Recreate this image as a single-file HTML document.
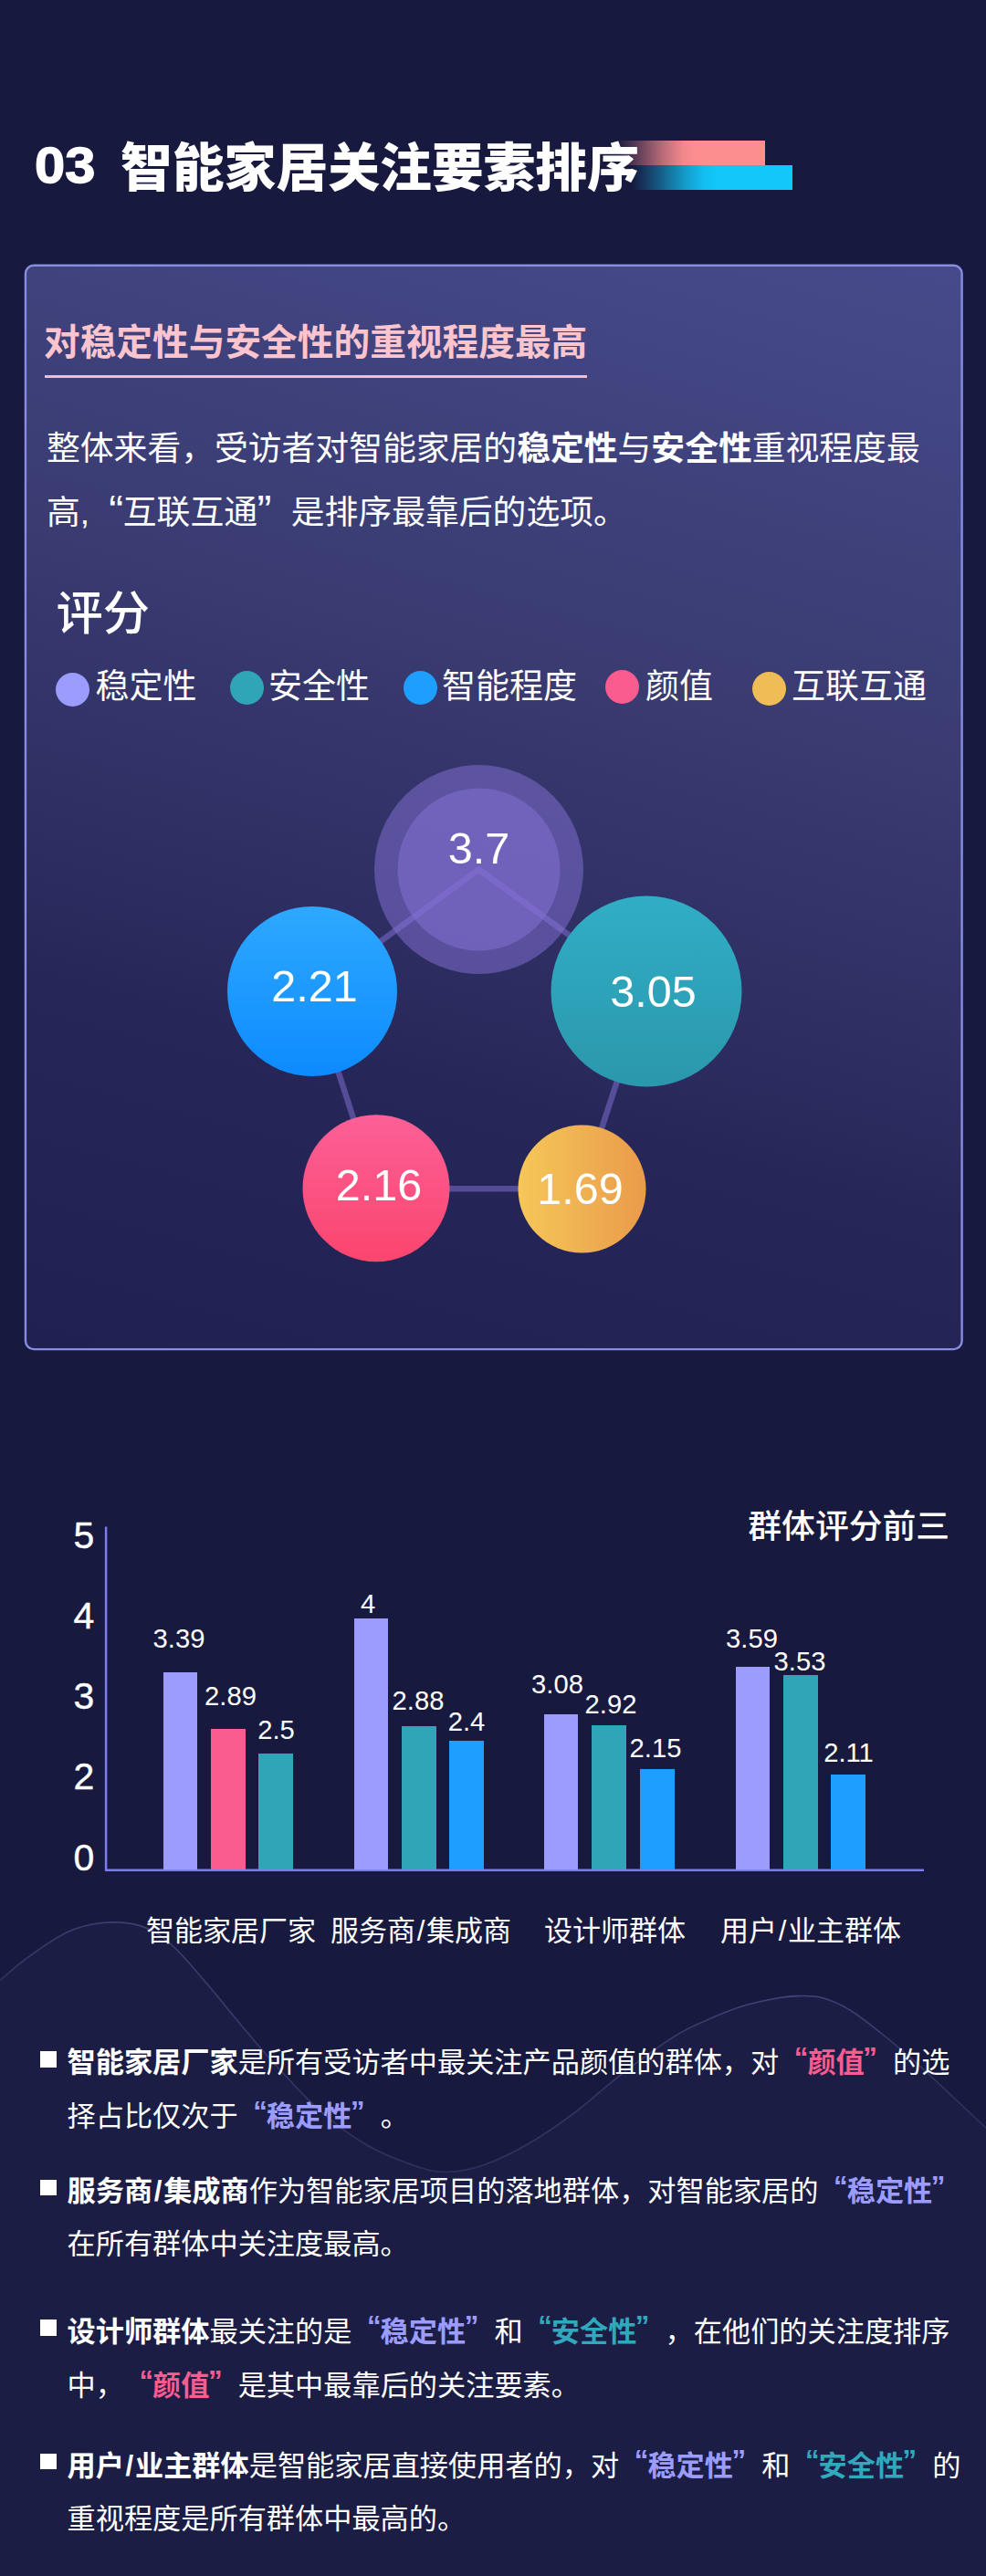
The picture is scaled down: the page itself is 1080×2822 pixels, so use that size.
<!DOCTYPE html>
<html lang="zh-CN"><head><meta charset="utf-8"><title>智能家居关注要素排序</title>
<style>
*{margin:0;padding:0;box-sizing:border-box}
html,body{width:1080px;height:2822px;background:#17193e;overflow:hidden}
body{font-family:"Liberation Sans", "Noto Sans CJK SC", sans-serif;color:#fff;text-spacing-trim:space-all;-webkit-font-smoothing:antialiased}
#pg{position:relative;width:1080px;height:2822px;overflow:hidden;background:#17193e}
.abs{position:absolute;white-space:nowrap}
.ql,.qr{font-size:1.3em;line-height:0;position:relative;top:.033em}
.ql{margin-left:.446em;margin-right:-.01em}
.qr{margin-left:-.013em;margin-right:.449em}
.qlb,.qrb{position:relative;top:-.165em}
.qlb{margin-left:.53em;margin-right:-.03em}
.qrb{margin-left:-.05em;margin-right:.55em}
b{font-weight:700}
.t{position:absolute;white-space:nowrap;line-height:1}
.title{font-weight:900;font-size:56.8px;line-height:60px;top:154.8px}
h1,h2,h3,p,li,figcaption{font-weight:400;font-size:inherit}
ul{list-style:none}
.h2{font-weight:700;font-size:39.7px;color:#fcc4cd;left:48px;top:353.5px;line-height:42px}
.ul{position:absolute;left:48.5px;top:411px;width:594px;height:3px;background:#f6bcc8}
.p1{font-size:36.8px;line-height:40px;left:51px;color:#fff}
.leg{font-size:37px;line-height:40px;top:732.7px}
.dot{position:absolute;width:37px;height:37px;border-radius:50%}
.num{position:absolute;white-space:nowrap;font-size:48.5px;line-height:50px;text-align:center;transform:translateX(-50%)}
.bar{position:absolute;width:37.6px}
.v{position:absolute;white-space:nowrap;font-size:29.2px;line-height:30px;transform:translateX(-50%)}
.ax{position:absolute;white-space:nowrap;font-size:41px;line-height:40px;left:92px;transform:translateX(-50%);-webkit-text-stroke:.4px #fff}
.xl{position:absolute;white-space:nowrap;font-size:31px;line-height:34px;top:2098.5px}
.bl{position:absolute;left:44px;width:18px;height:17.5px;background:#fff}
.sl{margin:0 .055em}
.ln{position:absolute;white-space:nowrap;left:73.5px;font-size:31.2px;line-height:40px}
.cp{color:#fb5c8f;font-weight:700}
.cv{color:#9c9cff;font-weight:700}
.ct{color:#2fa9bb;font-weight:700}
</style></head>
<body><div id="pg">
<svg class="abs" style="left:0;top:2040px" width="1080" height="782" viewBox="0 2040 1080 782">
<defs><linearGradient id="ws" x1="0" y1="0" x2="1080" y2="0" gradientUnits="userSpaceOnUse"><stop offset="0" stop-color="#9aa0f0" stop-opacity=".18"/><stop offset=".12" stop-color="#9aa0f0" stop-opacity=".3"/><stop offset=".3" stop-color="#9aa0f0" stop-opacity=".2"/><stop offset=".45" stop-color="#9aa0f0" stop-opacity=".16"/><stop offset=".65" stop-color="#9aa0f0" stop-opacity=".2"/><stop offset=".8" stop-color="#9aa0f0" stop-opacity=".32"/><stop offset="1" stop-color="#9aa0f0" stop-opacity=".15"/></linearGradient></defs>
<path d="M0.0 2169.5 C13.4 2157.3 27.1 2146.3 40.6 2137.0 C54.1 2127.7 66.8 2118.7 81.0 2113.5 C95.2 2108.3 112.3 2105.9 125.8 2105.8 C139.3 2105.7 151.2 2108.2 162.0 2112.7 C172.8 2117.2 179.9 2122.8 190.7 2133.0 C201.5 2143.2 214.8 2159.4 227.0 2173.6 C239.2 2187.8 251.4 2203.4 263.7 2218.0 C276.0 2232.6 286.1 2245.2 300.7 2261.0 C315.3 2276.8 334.5 2298.2 351.4 2313.0 C368.3 2327.8 385.1 2340.2 402.0 2350.0 C418.9 2359.8 438.5 2367.1 452.8 2372.0 C467.1 2376.9 475.3 2379.5 488.0 2379.5 C500.7 2379.5 513.7 2377.2 529.0 2372.0 C544.3 2366.8 562.8 2357.7 579.6 2348.0 C596.4 2338.3 613.1 2326.7 630.0 2314.0 C646.9 2301.3 662.9 2285.8 681.0 2272.0 C699.1 2258.2 722.5 2241.1 738.5 2231.0 C754.5 2220.9 764.1 2217.4 777.0 2211.7 C789.9 2206.0 802.8 2200.9 815.6 2197.0 C828.4 2193.1 844.4 2190.2 854.0 2188.5 C863.6 2186.8 865.7 2186.6 873.4 2186.6 C881.1 2186.6 890.8 2185.9 900.4 2188.5 C910.0 2191.1 919.5 2194.9 931.0 2202.0 C942.5 2209.1 956.9 2220.7 969.7 2231.0 C982.5 2241.3 995.1 2252.2 1008.0 2263.7 C1020.9 2275.2 1034.8 2288.8 1046.8 2300.0 C1058.8 2311.2 1067.8 2319.3 1080.0 2331.0 L1080 2822 L0 2822 Z" fill="#1b1d45"/>
<path d="M0.0 2169.5 C13.4 2157.3 27.1 2146.3 40.6 2137.0 C54.1 2127.7 66.8 2118.7 81.0 2113.5 C95.2 2108.3 112.3 2105.9 125.8 2105.8 C139.3 2105.7 151.2 2108.2 162.0 2112.7 C172.8 2117.2 179.9 2122.8 190.7 2133.0 C201.5 2143.2 214.8 2159.4 227.0 2173.6 C239.2 2187.8 251.4 2203.4 263.7 2218.0 C276.0 2232.6 286.1 2245.2 300.7 2261.0 C315.3 2276.8 334.5 2298.2 351.4 2313.0 C368.3 2327.8 385.1 2340.2 402.0 2350.0 C418.9 2359.8 438.5 2367.1 452.8 2372.0 C467.1 2376.9 475.3 2379.5 488.0 2379.5 C500.7 2379.5 513.7 2377.2 529.0 2372.0 C544.3 2366.8 562.8 2357.7 579.6 2348.0 C596.4 2338.3 613.1 2326.7 630.0 2314.0 C646.9 2301.3 662.9 2285.8 681.0 2272.0 C699.1 2258.2 722.5 2241.1 738.5 2231.0 C754.5 2220.9 764.1 2217.4 777.0 2211.7 C789.9 2206.0 802.8 2200.9 815.6 2197.0 C828.4 2193.1 844.4 2190.2 854.0 2188.5 C863.6 2186.8 865.7 2186.6 873.4 2186.6 C881.1 2186.6 890.8 2185.9 900.4 2188.5 C910.0 2191.1 919.5 2194.9 931.0 2202.0 C942.5 2209.1 956.9 2220.7 969.7 2231.0 C982.5 2241.3 995.1 2252.2 1008.0 2263.7 C1020.9 2275.2 1034.8 2288.8 1046.8 2300.0 C1058.8 2311.2 1067.8 2319.3 1080.0 2331.0" fill="none" stroke="url(#ws)" stroke-width="1.6"/>
</svg>
<header>
<div class="t" style="left:38.3px;top:150.6px;font-weight:700;font-size:55.5px;line-height:60px;-webkit-text-stroke:1.3px #fff;transform:scaleX(1.075);transform-origin:0 0">03</div>
<h1 class="t title" style="left:132px;z-index:3">智能家居关注要素排序</h1>
<div class="abs" style="left:675px;top:154.2px;width:163px;height:27px;background:linear-gradient(90deg,rgba(253,142,144,0) 0%,rgba(253,142,144,.3) 14%,rgba(253,142,144,.72) 32%,rgba(253,142,144,.95) 45%,#fd8e90 54%,#fd8e90 100%)"></div>
<div class="abs" style="left:692px;top:181.4px;width:175.7px;height:26.8px;background:linear-gradient(90deg,rgba(18,200,250,0) 0%,rgba(18,200,250,.3) 14%,rgba(18,200,250,.72) 32%,rgba(18,200,250,.95) 45%,#12c8fa 54%,#12c8fa 100%)"></div>
</header>
<section>
<div class="abs" style="left:28px;top:290.8px;width:1025.6px;height:1187.2px;border-radius:9px;background:linear-gradient(195deg,#464a8a 0%,#444886 6.8%,#3e407a 24.3%,#393b71 38%,#323368 52%,#2a2a5d 67%,#262758 72%,#212154 96%,#202052 100%)"></div>
<svg class="abs" style="left:20px;top:280px" width="1040" height="1210" viewBox="20 280 1040 1210">
<rect x="27.95" y="290.7" width="1025.65" height="1187.4" rx="9" ry="9" fill="none" stroke="#888de2" stroke-width="2.4"/>
</svg>
<h2 class="t h2">对稳定性与安全性的重视程度最高</h2>
<div class="ul"></div>
<p><span class="t p1" style="top:472px">整体来看，受访者对智能家居的<b>稳定性</b>与<b>安全性</b>重视程度最</span>
<span class="t p1" style="top:542px">高,<span class="ql">“</span>互联互通<span class="qr">”</span>是排序最靠后的选项。</span></p>
<h3 class="t" style="left:61.5px;top:647px;font-size:51.3px;line-height:52px;font-weight:500">评分</h3>
<ul>
<li><i class="dot" style="left:61.2px;top:737.1px;background:#9c9cff"></i><span class="t leg" style="left:104.5px">稳定性</span></li>
<li><i class="dot" style="left:252.0px;top:735.3px;background:#2fa5b7"></i><span class="t leg" style="left:294px">安全性</span></li>
<li><i class="dot" style="left:442.2px;top:735.4px;background:#1e9fff"></i><span class="t leg" style="left:484px">智能程度</span></li>
<li><i class="dot" style="left:663.2px;top:733.8px;background:#fb5c8f"></i><span class="t leg" style="left:707px">颜值</span></li>
<li><i class="dot" style="left:823.6px;top:736.2px;background:#f0bc55"></i><span class="t leg" style="left:867px">互联互通</span></li>
</ul>
<figure>
<svg class="abs" style="left:200px;top:800px" width="700" height="620" viewBox="200 800 700 620">
<defs>
<linearGradient id="gb" x1="0" y1="0" x2="0" y2="1"><stop offset="0" stop-color="#2ea8ff"/><stop offset="1" stop-color="#0d8bff"/></linearGradient>
<linearGradient id="gt" x1="0" y1="0" x2="0" y2="1"><stop offset="0" stop-color="#30aec6"/><stop offset="1" stop-color="#2b97ac"/></linearGradient>
<linearGradient id="gp" x1="0" y1="0" x2="0" y2="1"><stop offset="0" stop-color="#fc6097"/><stop offset="1" stop-color="#fb456e"/></linearGradient>
<linearGradient id="gy" x1="0" y1="0" x2="1" y2="0"><stop offset="0" stop-color="#f5c759"/><stop offset="1" stop-color="#ea9b4a"/></linearGradient>
</defs>
<polygon points="524.5,952.5 708,1086 637.5,1302.2 412,1302.2 342,1086" fill="none" stroke="#8672d8" stroke-opacity=".5" stroke-width="6.5" stroke-linejoin="round"/>
<circle cx="524.5" cy="952.5" r="114.5" fill="#8672d8" fill-opacity=".5"/>
<circle cx="524.5" cy="952.5" r="89" fill="#8672d8" fill-opacity=".5"/>
<circle cx="342" cy="1086" r="93" fill="url(#gb)"/>
<circle cx="708" cy="1086" r="104.5" fill="url(#gt)"/>
<circle cx="412" cy="1301.7" r="80.5" fill="url(#gp)"/>
<circle cx="637.5" cy="1302.5" r="70" fill="url(#gy)"/>
</svg>
<div class="num" style="left:524.5px;top:903.6px">3.7</div>
<div class="num" style="left:344.5px;top:1054.6px">2.21</div>
<div class="num" style="left:715.5px;top:1061.1px">3.05</div>
<div class="num" style="left:415.0px;top:1272.6px">2.16</div>
<div class="num" style="left:635.5px;top:1276.6px">1.69</div>
</figure>
</section>
<section>
<h3 class="t" style="left:819.3px;top:1652.5px;font-size:36.8px;line-height:40px;font-weight:500">群体评分前三</h3>
<svg class="abs" style="left:100px;top:1660px" width="930" height="400" viewBox="100 1660 930 400"><path d="M116.1 1672.5 V2048.8 H1012" fill="none" stroke="#7a7cf0" stroke-width="2.5"/></svg>
<div class="ax" style="top:1661.8px">5</div>
<div class="ax" style="top:1750px">4</div>
<div class="ax" style="top:1838.2px">3</div>
<div class="ax" style="top:1926.4px">2</div>
<div class="ax" style="top:2015.2px">0</div>
<div class="bar" style="left:178.5px;top:1831.5px;height:216.1px;background:#9c9cff"></div>
<div class="v" style="left:196px;top:1780px">3.39</div>
<div class="bar" style="left:231px;top:1894px;height:153.6px;background:#fb5c8f"></div>
<div class="v" style="left:252.5px;top:1842.5px">2.89</div>
<div class="bar" style="left:283px;top:1921px;height:126.6px;background:#2fa5b7"></div>
<div class="v" style="left:302.5px;top:1879.5px">2.5</div>
<div class="bar" style="left:387.5px;top:1772.5px;height:275.1px;background:#9c9cff"></div>
<div class="v" style="left:403px;top:1742px">4</div>
<div class="bar" style="left:440px;top:1891px;height:156.6px;background:#2fa5b7"></div>
<div class="v" style="left:458px;top:1847.5px">2.88</div>
<div class="bar" style="left:492px;top:1906.5px;height:141.1px;background:#1e9fff"></div>
<div class="v" style="left:511px;top:1871px">2.4</div>
<div class="bar" style="left:595.5px;top:1877.5px;height:170.1px;background:#9c9cff"></div>
<div class="v" style="left:610.5px;top:1830px">3.08</div>
<div class="bar" style="left:648px;top:1890px;height:157.6px;background:#2fa5b7"></div>
<div class="v" style="left:669px;top:1852px">2.92</div>
<div class="bar" style="left:701px;top:1937.5px;height:110.1px;background:#1e9fff"></div>
<div class="v" style="left:718px;top:1900px">2.15</div>
<div class="bar" style="left:805.5px;top:1826px;height:221.6px;background:#9c9cff"></div>
<div class="v" style="left:823.5px;top:1780px">3.59</div>
<div class="bar" style="left:858px;top:1835px;height:212.6px;background:#2fa5b7"></div>
<div class="v" style="left:876px;top:1805px">3.53</div>
<div class="bar" style="left:910px;top:1944px;height:103.6px;background:#1e9fff"></div>
<div class="v" style="left:929.5px;top:1905px">2.11</div>
<div class="xl" style="left:160px">智能家居厂家</div>
<div class="xl" style="left:362px">服务商<span class="sl">/</span>集成商</div>
<div class="xl" style="left:596px">设计师群体</div>
<div class="xl" style="left:789px">用户<span class="sl">/</span>业主群体</div>
</section>
<ul>
<li><i class="bl" style="top:2247px"></i><span class="ln" style="top:2240px"><b>智能家居厂家</b>是所有受访者中最关注产品颜值的群体，对<span class="cp"><span class="qlb">“</span>颜值<span class="qrb">”</span></span>的选</span>
<span class="ln" style="top:2299px">择占比仅次于<span class="cv"><span class="qlb">“</span>稳定性<span class="qrb">”</span></span>。</span></li>
<li><i class="bl" style="top:2387.5px"></i><span class="ln" style="top:2380.7px"><b>服务商<span class="sl">/</span>集成商</b>作为智能家居项目的落地群体，对智能家居的<span class="cv"><span class="qlb">“</span>稳定性<span class="qrb">”</span></span></span>
<span class="ln" style="top:2439px">在所有群体中关注度最高。</span></li>
<li><i class="bl" style="top:2541px"></i><span class="ln" style="top:2534.5px"><b>设计师群体</b>最关注的是<span class="cv"><span class="qlb">“</span>稳定性<span class="qrb">”</span></span>和<span class="ct"><span class="qlb">“</span>安全性<span class="qrb">”</span></span>，在他们的关注度排序</span>
<span class="ln" style="top:2594px">中，<span class="cp"><span class="qlb">“</span>颜值<span class="qrb">”</span></span>是其中最靠后的关注要素。</span></li>
<li><i class="bl" style="top:2687.5px"></i><span class="ln" style="top:2681.5px"><b>用户<span class="sl">/</span>业主群体</b>是智能家居直接使用者的，对<span class="cv"><span class="qlb">“</span>稳定性<span class="qrb">”</span></span>和<span class="ct"><span class="qlb">“</span>安全性<span class="qrb">”</span></span>的</span>
<span class="ln" style="top:2740px">重视程度是所有群体中最高的。</span></li>
</ul>
</div></body></html>
